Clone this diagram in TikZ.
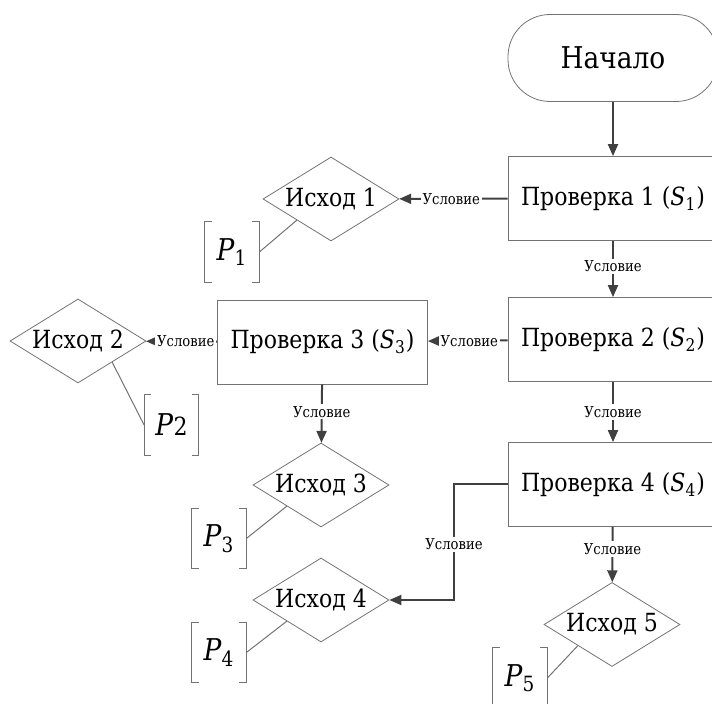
\documentclass[tikz,border=0pt]{standalone}
\usepackage{fontspec}
\setmainfont{DejaVu Serif}[FakeStretch=0.88]
\usetikzlibrary{shapes.geometric,arrows.meta}
\definecolor{linegray}{rgb}{0.45,0.45,0.45}
\definecolor{arrowgray}{rgb}{0.25,0.25,0.25}

% Скобки вокруг узла P
\newcommand{\skobki}[1]{%
  \draw[bracket_line] ([xshift=3.5pt]#1.north west) -- (#1.north west) -- (#1.south west) -- ([xshift=3.5pt]#1.south west);
  \draw[bracket_line] ([xshift=-3.5pt]#1.north east) -- (#1.north east) -- (#1.south east) -- ([xshift=-3.5pt]#1.south east);}

\begin{document}
\begin{tikzpicture}[x=0.5pt,y=-0.5pt]
    % Стили узлов и стрелок
    \tikzset{
        start_node/.style={
            draw=linegray, % Рамка
            rounded corners=21pt,
            minimum width=105pt, % Ширина
            minimum height=43.5pt, % Высота
            font=\fontsize{15}{17}\selectfont
        },
        check_node/.style={
            draw=linegray, % Рамка
            minimum width=105pt, % Ширина
            minimum height=42pt, % Высота
            font=\fontsize{12.5}{14}\selectfont
        },
        outcome_node/.style={
            draw=linegray, % Рамка
            diamond,
            aspect=1.62,
            inner sep=0pt,
            minimum width=68pt, % Ширина
            minimum height=42pt, % Высота
            font=\fontsize{12.5}{14}\selectfont
        },
        p_node/.style={
            minimum width=27pt,
            minimum height=30pt,
            inner sep=0pt,
            font=\fontsize{15}{17}\selectfont
        },
        cond_label/.style={
            fill=white, % Фон поверх линии
            inner sep=1pt,
            font=\fontsize{7.5}{8}\selectfont
        },
        flow_arrow/.style={
            draw=arrowgray,
            line width=1pt,
            -{Triangle[length=6pt,width=5pt]}
        },
        bracket_line/.style={
            draw=linegray,
            line width=0.5pt
        }
    }

    \useasboundingbox (0,0) rectangle (712,704);
    \clip (0,0) rectangle (712,704);

    % Начало
    \node[start_node] (start) at (613,58) {Начало};

    % Проверки
    \node[check_node] (check1) at (613,198.5) {Проверка 1 (\textit{S}\textsubscript{1})};
    \node[check_node] (check2) at (613,339.5) {Проверка 2 (\textit{S}\textsubscript{2})};
    \node[check_node] (check3) at (322.5,342) {Проверка 3 (\textit{S}\textsubscript{3})};
    \node[check_node] (check4) at (613,484.5) {Проверка 4 (\textit{S}\textsubscript{4})};

    % Исходы
    \node[outcome_node] (out1) at (331,199) {Исход 1};
    \node[outcome_node] (out2) at (78,341) {Исход 2};
    \node[outcome_node] (out3) at (321,485) {Исход 3};
    \node[outcome_node] (out4) at (321,600) {Исход 4};
    \node[outcome_node] (out5) at (612,624.5) {Исход 5};

    % Величины P
    \node[p_node] (p1) at (232,252) {\textit{P}\textsubscript{1}};
    \node[p_node] (p2) at (171.5,425) {\textit{P}{\fontsize{12.5}{14}\selectfont 2}};
    \node[p_node] (p3) at (219,538.5) {\textit{P}\textsubscript{3}};
    \node[p_node] (p4) at (219,652.5) {\textit{P}\textsubscript{4}};
    \node[p_node] (p5) at (520,678) {\textit{P}\textsubscript{5}};
    \foreach \n in {p1,p2,p3,p4,p5} {\skobki{\n}}

    % Связи исходов с P
    \draw[bracket_line] (out1.south west) -- (p1.east);
    \draw[bracket_line] (out2.south east) -- (p2.west);
    \draw[bracket_line] (out3.south west) -- (p3.east);
    \draw[bracket_line] (out4.south west) -- (p4.east);
    \draw[bracket_line] (out5.south west) -- (p5.east);

    % Стрелки с условиями
    \draw[flow_arrow] (start) -- (check1);
    \draw[flow_arrow] (check1) -- node[cond_label, pos=0.52] {Условие} (out1);
    \draw[flow_arrow] (check1) -- node[cond_label, pos=0.45] {Условие} (check2);
    \draw[flow_arrow] (check2) -- node[cond_label, pos=0.48] {Условие} (check3);
    \draw[flow_arrow] (check3) -- node[cond_label, pos=0.44] {Условие} (out2);
    \draw[flow_arrow] (check3) -- node[cond_label, pos=0.47] {Условие} (out3);
    \draw[flow_arrow] (check2) -- node[cond_label, pos=0.5] {Условие} (check4);
    \draw[flow_arrow] (check4) -- node[cond_label, pos=0.4] {Условие} (out5);

    % Обходная стрелка к исходу 4
    \coordinate (turn) at (454,600);
    \draw[flow_arrow] (check4.west) -| node[cond_label, pos=0.76] {Условие} (turn) -- (out4.east);

\end{tikzpicture}
\end{document}
